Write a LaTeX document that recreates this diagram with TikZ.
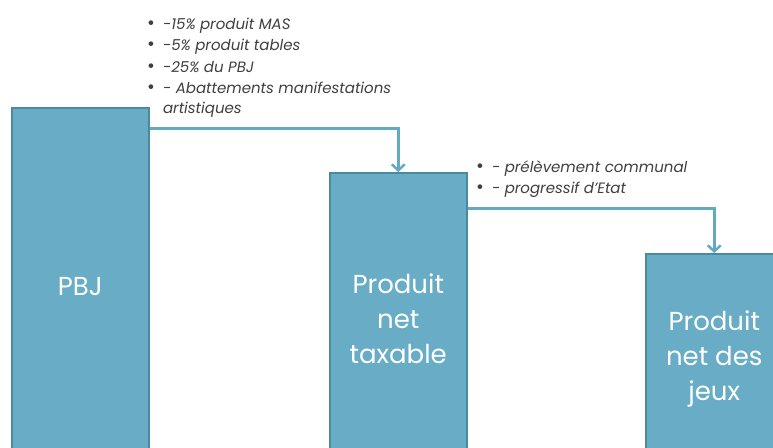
\documentclass[tikz,border=0pt]{standalone}
\usepackage{fontspec}
\setmainfont{Poppins}
\usetikzlibrary{arrows.meta, positioning, calc}
\definecolor{boxfill}{HTML}{68ADC5}
\definecolor{boxline}{HTML}{4A8A9E}
\definecolor{linkcol}{HTML}{62A9C2}
\definecolor{notecol}{HTML}{3F3F3F}
\newcommand{\notedot}{{\fontsize{19}{19}\selectfont\upshape •}}
\tikzset{
    stage/.style={draw=boxline, line width=1.5pt, fill=boxfill, anchor=north west,
        minimum width=137pt, inner sep=0pt, text=white, align=center,
        font=\fontsize{26}{35}\selectfont},
    link/.style={draw=linkcol, line width=3pt,
        -{Straight Barb[length=6pt, width=13pt, line width=2.5pt]}},
    note/.style={anchor=base west, inner sep=0pt, text=notecol,
        font=\fontsize{15}{21.5}\selectfont\itshape}
}
\begin{document}
\begin{tikzpicture}[x=1pt, y=-1pt]
    \useasboundingbox (0,0) rectangle (773,447);
    \clip (0,0) rectangle (773,447);
    % the three stages
    \node[stage, minimum height=358pt] (pbj) at (11,107) {PBJ};
    \node[stage, minimum height=292pt] (taxable) at (329,172) {Produit\\net\\taxable};
    \node[stage, minimum height=210pt] (jeux) at (645,253) {Produit\\net des\\jeux};
    % deductions
    \node[note] (deduc1) at (147,29) {\begin{tabular}[t]{@{}l@{\hspace{8pt}}l@{}}
        \notedot & -15\% produit MAS\\
        \notedot & -5\% produit tables\\
        \notedot & -25\% du PBJ\\
        \notedot & - Abattements manifestations\\[-2pt]
          & artistiques
    \end{tabular}};
    \node[note] (deduc2) at (476,172) {\begin{tabular}[t]{@{}l@{\hspace{8pt}}l@{}}
        \notedot & - prélèvement communal\\
        \notedot & - progressif d’Etat
    \end{tabular}};
    % flows
    \coordinate (out1) at ($(pbj.north east)+(0,21)$);
    \coordinate (out2) at ($(taxable.north east)+(0,36)$);
    \draw[link] (out1) -| (taxable.north);
    \draw[link] (out2) -| (jeux.north);
\end{tikzpicture}
\end{document}
